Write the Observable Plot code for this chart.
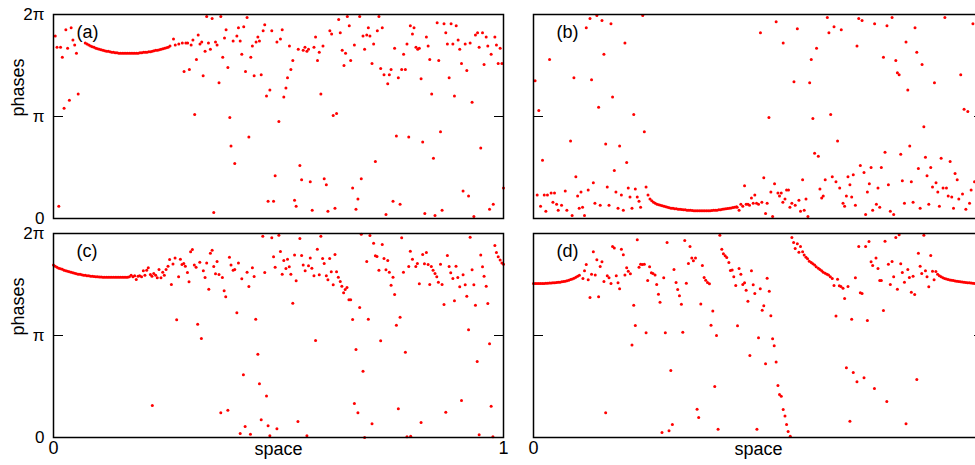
<!DOCTYPE html>
<html><head><meta charset="utf-8">
<script src="https://cdn.jsdelivr.net/npm/d3@7"></script>
<script src="https://cdn.jsdelivr.net/npm/@observablehq/plot@0.6"></script>
<style>
html,body{margin:0;padding:0;overflow:hidden;background:#fff}
#wrap{position:relative;width:975px;height:465px;overflow:hidden;background:#fff}
#wrap svg{position:absolute}
</style></head><body><div id="wrap"></div>
<script>
// oscillator index 0..255 along "space" (0..1); phases stored in units of π (0..2)
const phaseTicks = [0, 1, 2];
const phaseTickLabels = ["0", "π", "2π"];
const spaceTicks = [0, 255];
const spaceTickLabels = ["0", "1"];
const panelTags = ["(a)", "(b)", "(c)", "(d)"];

// ---- panel (a)
const arcAStart = 18;
const arcA = [1.72,1.71,1.70,1.69,1.685,1.68,1.67,1.665,1.66,1.655,1.65,1.645,1.64,1.64,1.635,1.63,1.63,1.625,1.625,
  1.62,1.62,1.62,1.62,1.62,1.62,1.62,1.62,1.62,1.62,1.62,1.62,
  1.625,1.625,1.63,1.63,1.63,1.635,1.635,1.64,1.645,1.65,1.65,1.655,1.66,1.665,1.67,1.675,1.68,1.69];
const scatterA = [[1,1.79],[2,1.68],[4,1.68],[5,1.58],[7,1.85],[8,1.67],[10,1.87],[11,1.75],[12,1.70],[13,1.62],[6,1.08],[9,1.16],[14,1.22],[3,0.12],
  [68,1.76],[69,1.70],[71,1.71],[73,1.72],[75,1.72],[76,1.72],[78,1.70],[79,1.75],[82,1.80],[83,1.71],[81,1.56],[74,1.44],[77,1.46],[80,1.02],
  [86.8,1.98],[89.9,1.96],[94.8,1.98],[109.7,1.97],[84.0,1.73],[85.9,1.64],[84.8,1.40],[87.8,1.72],[88.9,1.66],[91.8,1.73],[92.7,1.70],[96.9,1.77],[97.8,1.85],[95.9,1.58],[98.8,1.48],[93.8,1.33],[101.8,1.74],[103.9,1.79],[104.8,1.87],[105.8,1.74],[107.8,1.88],[106.7,1.61],[111.8,1.58],[108.8,1.44],[112.7,1.69],[113.7,1.40],[114.8,1.73],[115.8,1.78],[116.7,1.74],[117.7,1.41],[118.8,1.84],[119.7,1.90],[123.7,1.84],[126.6,1.73],[128.6,1.76],[129.6,1.85],[133.7,1.69],[135.6,1.55],[134.5,1.46],[132.6,1.38],[131.7,1.28],[130.5,1.19],[122.6,1.26],[120.7,1.20],[99.9,0.99],[127.7,0.95],[110.7,0.80],[100.6,0.71],[102.7,0.54],[125.6,0.42],[139.6,0.52],[140.6,0.38],[145.5,0.36],[153.4,0.39],[154.6,0.33],[121.6,0.17],[124.7,0.17],[136.6,0.18],[137.5,0.12],[146.6,0.08],[155.5,0.07],[159.5,0.10],[90.8,0.06],[138.7,1.66],[141.5,1.65],[142.5,1.68],[143.6,1.64],[144.5,1.66],[147.6,1.68],[148.5,1.78],[150.6,1.63],[149.6,1.55],[152.7,1.69],[151.5,1.22],[156.6,1.84],[157.6,1.81],[161.6,1.95],[162.5,1.82],[166.5,1.98],[167.6,1.89],[163.6,1.65],[165.5,1.62],[164.6,1.50],[168.4,1.55],[158.5,1.01],[160.4,1.03],
  [173.5,1.98],[184.4,1.98],[170.5,1.70],[175.4,1.79],[177.5,1.80],[178.4,1.87],[179.3,1.79],[176.3,1.66],[181.4,1.71],[183.5,1.84],[186.3,1.87],[180.5,1.52],[185.4,1.47],[187.3,1.41],[190.3,1.41],[191.3,1.46],[189.4,1.32],[193.3,1.67],[195.4,1.38],[197.3,1.46],[199.4,1.46],[198.4,1.61],[200.3,1.71],[202.2,1.89],[204.3,1.87],[203.4,1.81],[205.4,1.68],[206.4,1.66],[207.3,1.67],[208.3,1.37],[211.3,1.78],[212.3,1.69],[213.2,1.56],[214.3,1.22],[217.4,1.92],[218.3,1.55],[221.3,1.91],[222.3,1.82],[223.2,1.71],[224.2,1.38],[225.3,1.91],[226.3,1.71],[228.2,1.89],[229.3,1.75],[230.2,1.66],[227.2,1.20],[231.2,1.52],[233.3,1.71],[234.2,1.45],[236.1,1.72],[237.2,1.14],[239.1,1.80],[240.3,1.82],[241.2,1.68],[243.1,1.82],[244.0,1.51],[245.2,1.78],[246.1,1.69],[248.0,1.61],[250.1,1.78],[251.0,1.70],[252.0,1.52],[253.1,1.67],[254.1,1.52],[194.3,0.81],[201.3,0.80],[209.2,0.75],[219.3,0.85],[215.3,0.59],[182.4,0.56],[242.1,0.69],[174.4,0.39],[169.5,0.30],[172.5,0.19],[171.4,0.09],[188.4,0.04],[192.4,0.17],[196.4,0.14],[210.4,0.05],[216.2,0.03],[220.2,0.08],[232.1,0.27],[235.2,0.22],[238.2,0.02],[247.1,0.09],[249.2,0.14],[255,0.30]];

// ---- panel (b)
const arcBStart = 66;
const arcB = [0.19,0.175,0.16,0.15,0.14,0.135,0.13,0.125,0.12,0.115,0.11,0.105,0.10,0.10,0.095,0.095,0.09,0.09,0.088,0.085,0.085,0.082,0.08,0.08,0.078,0.077,0.076,0.075,0.075,0.075,0.075,0.075,0.075,0.076,0.077,0.078,0.08,0.08,0.082,0.085,0.087,0.09,0.092,0.095,0.098,0.10,0.103,0.107,0.11,0.115];
const scatterB = [[0.9,1.35],[3.0,1.06],[9.1,1.56],[5.1,0.57],[2.1,0.23],[6.1,0.23],[7.9,0.23],[10.0,0.25],[11.9,0.25],[4.0,0.12],[7.0,0.07],[11.0,0.16],[13.1,0.14],[14.0,0.08],[15.9,0.13],[18.0,0.27],[18.9,0.08],[21.9,0.03],[21.0,0.76],[22.9,1.38],[24.0,0.41],[25.0,0.22],[26.9,0.26],[25.9,0.10],[27.8,0.11],[28.9,0.03],[29.9,1.87],[32.0,1.96],[35.9,1.99],[38.8,1.94],[43.9,1.91],[39.9,1.61],[32.9,1.36],[36.9,1.09],[44.8,1.19],[51.8,1.72],[33.9,0.35],[31.0,0.28],[34.8,0.15],[37.8,0.13],[40.9,0.73],[41.8,0.31],[42.8,0.13],[45.8,0.47],[46.7,0.26],[47.9,0.10],[48.8,0.71],[49.8,0.23],[50.9,0.08],[52.8,0.55],[53.7,0.30],[54.7,0.21],[55.8,0.10],[56.8,1.02],[57.7,0.29],[58.8,0.21],[59.8,0.17],[60.7,0.11],[61.9,1.99],[62.8,0.85],[63.8,0.31],[64.9,0.23],
  [115.4,0.11],[116.5,0.08],[117.5,0.14],[118.6,0.12],[119.6,0.32],[120.5,0.14],[121.5,0.14],[122.4,0.13],[123.5,0.20],[124.5,0.15],[125.4,0.23],[126.4,0.15],[127.5,0.14],[129.4,0.16],[130.5,0.40],[131.5,0.05],[132.4,0.15],[134.5,0.26],[135.5,0.02],[136.6,0.34],[138.5,0.25],[139.4,0.22],[140.4,0.25],[141.3,0.16],[142.5,0.19],[143.4,0.28],[144.5,0.28],[145.3,0.11],[146.4,0.15],[148.3,0.13],[150.4,0.18],[151.3,0.07],[152.5,0.38],[153.4,0.08],[154.4,0.19],[155.5,0.02],[159.3,0.64],[161.4,0.61],[162.3,0.29],[163.3,0.20],[164.2,0.22],[165.3,0.38],[128.6,1.82],[137.5,1.93],[141.5,1.72],[149.5,1.86],[147.6,1.34],[133.4,0.99],[156.5,1.33],[158.3,0.98],[157.4,1.56],[160.4,1.67],[166.5,1.97],[167.4,1.82],[168.4,1.02],
  [170.3,1.88],[174.4,1.85],[184.3,1.96],[186.2,1.94],[183.3,1.69],[193.3,1.91],[200.3,1.89],[203.2,1.97],[216.2,1.87],[211.1,1.73],[198.3,1.58],[205.3,1.55],[206.2,1.43],[207.2,1.41],[212.1,1.26],[217.2,1.63],[220.2,1.51],[227.2,1.33],[233.1,1.97],[242.1,1.41],[244.0,1.07],[246.1,1.05],[249.0,1.91],[172.3,0.76],[221.2,0.90],[213.2,0.71],[199.2,0.65],[208.1,0.63],[222.1,0.60],[231.0,0.59],[236.1,0.56],[169.3,0.41],[171.4,0.36],[173.5,0.30],[175.4,0.15],[176.3,0.12],[177.3,0.22],[178.2,0.41],[179.3,0.33],[180.3,0.21],[181.2,0.43],[182.4,0.13],[185.2,0.52],[187.3,0.45],[188.2,0.04],[189.2,0.26],[190.3,0.34],[191.3,0.50],[192.2,0.08],[194.3,0.14],[195.2,0.30],[196.2,0.11],[197.1,0.50],[201.1,0.33],[202.2,0.07],[204.1,0.04],[209.0,0.37],[210.2,0.15],[214.1,0.36],[215.1,0.16],[218.1,0.49],[219.1,0.10],[223.0,0.42],[224.0,0.14],[225.1,0.50],[226.1,0.31],[228.1,0.35],[229.1,0.26],[230.0,0.12],[232.1,0.30],[234.0,0.30],[235.0,0.22],[237.0,0.21],[238.0,0.10],[238.9,0.44],[240.1,0.38],[241.0,0.19],[243.1,0.24],[245.0,0.09],[247.1,0.15],[248.0,0.28],[249.9,0.36]];

// ---- panel (c)
const arcCStart = 0;
const arcC = [1.69,1.68,1.67,1.66,1.655,1.65,1.64,1.635,1.63,1.625,1.62,1.615,1.61,1.605,1.60,1.60,1.595,1.59,1.59,1.585,1.585,1.58,1.58,1.578,1.576,1.575,1.574,1.573,1.572,1.571,1.57,1.57,1.57,1.57,1.57,1.57,1.57,1.57,1.57,1.57,1.57,1.571,1.572,1.575];
const scatterC = [[44,1.59],[45,1.575],[46,1.585],[46.9,1.55],[47.9,1.58],[48.8,1.585],[49.9,1.575],[50.9,1.634],[51.8,1.59],[52.8,1.64],[53.7,1.663],[54.9,1.598],[55.8,1.58],[56.8,1.608],[57.9,1.59],[58.8,1.565],[59.8,1.647],[60.9,1.565],[61.9,1.62],[62.8,1.59],[63.8,1.647],[64.9,1.68],[65.8,1.745],[66.8,1.50],[67.7,1.70],[68.9,1.76],[69.8,1.154],[70.9,1.575],[71.9,1.748],[72.8,1.696],[73.8,1.706],[74.7,1.68],[75.9,1.618],[76.8,1.526],[77.7,1.82],[78.7,1.843],[79.8,1.69],[80.8,1.67],[81.7,1.111],[56.0,0.314],
  [83.8,0.971],[82.9,1.719],[84.9,1.634],[85.9,1.569],[86.8,1.712],[88.0,1.454],[88.9,1.807],[89.9,1.837],[90.8,1.676],[91.8,1.605],[92.7,1.725],[93.8,1.598],[95.7,1.569],[96.7,1.438],[97.6,1.379],[99.7,1.768],[100.6,1.69],[101.8,1.64],[102.7,1.647],[103.9,1.222],[104.8,1.712],[106.7,1.556],[109.7,1.621],[110.7,1.48],[112.7,1.663],[113.7,1.578],[114.6,1.16],[115.8,0.817],[116.7,0.526],[117.7,0.173],[118.6,1.974],[119.7,1.618],[120.7,0.408],[121.6,0.114],[122.6,0.016],[123.7,1.958],[124.7,1.771],[125.6,1.67],[126.6,0.085],[127.7,1.984],[128.6,1.824],[129.6,1.601],[130.5,1.735],[131.7,1.657],[132.6,1.748],[133.6,1.673],[134.5,1.601],[135.6,1.317],[136.6,1.788],[137.5,1.536],[138.5,0.157],[139.6,1.951],[140.6,1.784],[141.5,1.69],[142.6,1.634],[143.6,0.016],[144.5,1.683],[145.5,1.761],[146.4,1.66],[147.6,1.585],[148.5,0.951],[149.5,1.846],[150.6,1.595],[151.5,1.974],[152.5,1.755],[153.4,1.706],[154.6,1.585],[155.5,1.546],[156.5,1.755],[157.4,1.624],[158.5,1.497],[159.5,1.794],[160.4,1.624],[161.4,1.572],[162.5,1.529],[163.4,1.484],[164.4,1.418],[165.3,1.451],[166.3,1.47],[167.4,1.35],[94.8,0.242],[98.8,0.268],[105.8,0.039],[108.6,0.108],[111.6,0.033],[107.6,0.614],
  [168.4,1.35],[169.5,1.157],[171.4,0.863],[173.5,1.275],[174.4,1.993],[175.4,0.65],[177.5,1.725],[178.4,1.16],[179.3,1.98],[181.4,1.905],[182.4,1.781],[183.3,1.775],[184.4,1.64],[185.4,0.948],[186.3,1.892],[187.3,1.755],[188.4,1.644],[189.4,1.735],[190.3,1.621],[191.3,1.493],[192.4,1.572],[193.3,1.402],[194.3,1.101],[196.4,1.18],[197.3,1.958],[198.3,1.621],[199.4,0.837],[201.3,1.676],[202.2,1.827],[203.4,1.748],[205.3,1.676],[206.2,1.706],[207.3,1.507],[209.2,1.794],[210.2,1.703],[211.3,1.814],[212.3,1.696],[213.2,1.50],[214.1,1.676],[215.1,1.64],[216.2,1.608],[217.2,1.575],[218.1,1.523],[219.3,1.699],[220.2,1.50],[221.3,1.304],[223.2,1.784],[224.2,1.676],[225.1,1.614],[226.3,1.559],[227.2,1.34],[228.1,1.68],[229.1,1.569],[230.2,1.477],[232.1,1.595],[233.3,1.497],[234.2,1.386],[236.1,1.964],[237.2,1.644],[238.2,1.497],[239.1,1.297],[242.1,1.788],[243.1,1.673],[244.0,1.582],[245.2,1.484],[246.1,1.314],[250.1,1.882],[251.0,1.814],[252.0,1.771],[253.1,1.739],[254.1,1.712],[255.0,1.699],[235.2,1.056],[247.1,0.918],[240.1,0.745],[231.2,0.363],[248.0,0.307],[170.5,0.333],[172.5,0.242],[180.5,0.134],[195.4,0.281],[208.3,0.147],[222.3,0.248],[176.3,0.0],[200.3,0.007],[202.4,0.013],[241.2,0.026],[249.0,0.007]];

// ---- panel (d)
const arcD1Start = 0;
const arcD1 = [1.51,1.51,1.51,1.51,1.51,1.51,1.51,1.512,1.513,1.514,1.515,1.516,1.517,1.519,1.521,1.523,1.526,1.529,1.533,1.537,1.542,1.548,1.555,1.562,1.57,1.58,1.59];
const arcD2Start = 229;
const arcD2 = [1.60,1.585,1.575,1.567,1.56,1.554,1.549,1.545,1.541,1.538,1.535,1.532,1.529,1.526,1.524,1.522,1.52,1.518,1.516,1.514,1.512,1.511,1.51,1.51,1.51,1.51,1.51];
const scatterD = [[28.0,1.559],[28.9,1.634],[29.9,1.696],[31.0,1.546],[32.0,1.373],[32.9,1.601],[33.9,1.82],[35.0,1.592],[35.9,1.742],[36.9,1.379],[37.8,1.676],[38.8,1.722],[39.9,1.529],[40.9,0.242],[41.8,1.585],[42.8,1.565],[43.9,1.51],[44.8,1.873],[45.8,1.859],[46.9,1.585],[47.9,1.516],[48.8,1.458],[49.8,1.846],[50.9,1.791],[51.8,1.592],[52.8,1.663],[53.7,1.631],[54.9,1.605],[55.8,0.908],[56.8,1.297],[57.7,1.098],[58.8,1.938],[59.8,1.67],[60.7,1.699],[61.7,1.696],[62.8,1.699],[63.8,1.026],[64.7,1.539],[65.8,1.673],[66.8,1.614],[67.7,1.608],[68.9,1.592],[69.8,1.50],[70.8,1.405],[71.7,1.327],[73.8,1.565],[74.7,1.026],[75.7,1.912],[76.8,0.065],[77.8,0.657],[78.7,0.127],[72.8,0.049],[79.6,1.647],[80.8,1.52],[81.7,1.451],[82.7,1.389],
  [83.8,1.307],[84.6,1.033],[85.7,1.931],[86.6,1.513],[87.8,1.706],[88.7,1.873],[89.7,1.761],[90.6,1.732],[91.8,1.761],[94.8,1.31],[95.7,1.686],[96.7,1.569],[97.6,1.542],[98.6,1.52],[99.7,1.507],[100.6,1.101],[101.6,1.239],[102.7,0.50],[103.7,1.0],[92.7,0.278],[93.6,0.196],[104.6,0.082],[105.6,1.984],[106.7,1.846],[107.6,1.801],[108.6,1.781],[109.5,1.765],[110.7,1.716],[111.6,1.637],[112.6,1.641],[113.5,1.575],[114.6,1.49],[115.6,1.095],[116.5,1.657],[117.5,1.601],[118.6,1.50],[119.6,1.516],[120.5,1.444],[121.5,1.337],[122.6,0.804],[123.5,1.634],[124.5,1.497],[125.4,1.412],[126.6,0.082],[127.5,0.977],[128.5,1.458],[129.6,1.248],[130.5,1.291],[131.5,0.722],[132.4,1.562],[133.6,1.435],[134.5,1.193],[135.5,0.967],[136.4,0.899],[137.5,0.739],[138.5,0.51],[139.4,0.422],[140.4,0.405],[141.5,0.275],[142.5,0.212],[143.4,0.127],[144.3,0.059],[145.5,0.013],[146.4,1.961],[147.4,1.912],[149.5,1.899],[148.3,1.853],[151.3,1.873],[150.4,1.817],[152.5,1.82],[153.4,1.788],[154.4,1.768],[155.3,1.752],[156.3,1.729],[157.4,1.716],[158.3,1.703],[159.3,1.69],[160.2,1.673],[161.4,1.66],[162.3,1.647],[163.3,1.634],[164.2,1.621],[165.3,1.611],[166.3,1.601],[167.2,1.592],[168.2,1.575],
  [169.3,1.559],[170.3,1.49],[171.4,1.19],[172.3,1.552],[173.3,1.487],[174.2,1.48],[175.4,1.464],[176.3,1.363],[177.3,0.683],[178.2,1.48],[179.3,0.16],[180.3,1.16],[181.2,0.637],[182.4,1.565],[183.3,0.546],[184.3,1.873],[185.2,1.418],[186.2,1.412],[187.3,0.585],[188.2,1.873],[189.2,1.147],[190.1,1.922],[191.3,1.722],[192.2,1.686],[193.2,0.48],[194.1,1.761],[195.2,1.657],[196.2,1.539],[197.1,1.539],[198.3,1.245],[199.2,1.925],[200.2,0.353],[201.1,1.699],[202.2,1.50],[203.2,1.725],[204.1,1.575],[205.3,1.961],[206.2,1.454],[207.2,1.987],[208.1,1.703],[209.0,1.618],[210.2,1.523],[211.1,0.134],[212.1,1.647],[213.0,1.569],[214.1,1.425],[215.1,1.582],[216.0,1.402],[217.2,0.569],[218.1,1.807],[219.1,1.68],[220.0,1.608],[221.2,1.984],[222.1,1.634],[223.0,1.575],[224.0,1.477],[225.1,1.784],[226.1,1.631],[227.0,1.546],[228.0,1.627]];

function arcPoints(start, values) { return values.map((p, k) => ({i: start + k, p})); }
function scatterPoints(pairs) { return pairs.map(([i, p]) => ({i, p})); }

const panels = [
  {tag: panelTags[0], row: 0, col: 0, points: [...arcPoints(arcAStart, arcA), ...scatterPoints(scatterA)]},
  {tag: panelTags[1], row: 0, col: 1, points: [...arcPoints(arcBStart, arcB), ...scatterPoints(scatterB)]},
  {tag: panelTags[2], row: 1, col: 0, points: [...arcPoints(arcCStart, arcC), ...scatterPoints(scatterC)]},
  {tag: panelTags[3], row: 1, col: 1, points: [...arcPoints(arcD1Start, arcD1), ...arcPoints(arcD2Start, arcD2), ...scatterPoints(scatterD)]}
];

const wrap = document.getElementById("wrap");
for (const cfg of panels) {
  const bottom = cfg.row === 1;
  const marks = [
    Plot.dot(cfg.points, {x: "i", y: "p", r: 1.5, fill: "#ff0000"}),
    Plot.axisY([1], {anchor: "left", tickSize: 10, dx: 10, tickFormat: () => "", label: null}),
    Plot.axisY([1], {anchor: "right", tickSize: 10, dx: -10, tickFormat: () => "", label: null}),
    Plot.frame({stroke: "black", strokeWidth: 1.5}),
    Plot.text([cfg.tag], {frameAnchor: "top-left", textAnchor: "start", lineAnchor: "middle", dx: 23, dy: 17.5})
  ];
  if (cfg.col === 0) {
    marks.push(
      Plot.axisY(phaseTicks, {anchor: "left", tickSize: 0, tickPadding: 9, fontSize: 17, tickFormat: d => phaseTickLabels[phaseTicks.indexOf(d)], label: null}),
      Plot.text(["phases"], {frameAnchor: "left", rotate: -90, dx: -35})
    );
  }
  if (bottom) {
    const xt = cfg.col === 0 ? spaceTicks : spaceTicks.slice(0, 1);
    marks.push(
      Plot.axisX(xt, {anchor: "bottom", tickSize: 0, tickPadding: 4, tickFormat: d => spaceTickLabels[spaceTicks.indexOf(d)], label: null}),
      Plot.text(["space"], {frameAnchor: "bottom", lineAnchor: "top", dy: 5})
    );
  }
  const svg = Plot.plot({
    width: 510,
    height: bottom ? 246 : 226,
    marginLeft: 53, marginRight: 7, marginTop: 14, marginBottom: bottom ? 28 : 8,
    x: {domain: [0, 255], axis: null},
    y: {domain: [0, 2], axis: null},
    style: {fontFamily: "'Liberation Sans', Arial, Helvetica, sans-serif", fontSize: "18px", background: "transparent", overflow: "visible", color: "black"},
    marks
  });
  svg.style.left = (cfg.col === 0 ? 0 : 480) + "px";
  svg.style.top = (bottom ? 219 : 0) + "px";
  wrap.appendChild(svg);
}
</script>
</body></html>
